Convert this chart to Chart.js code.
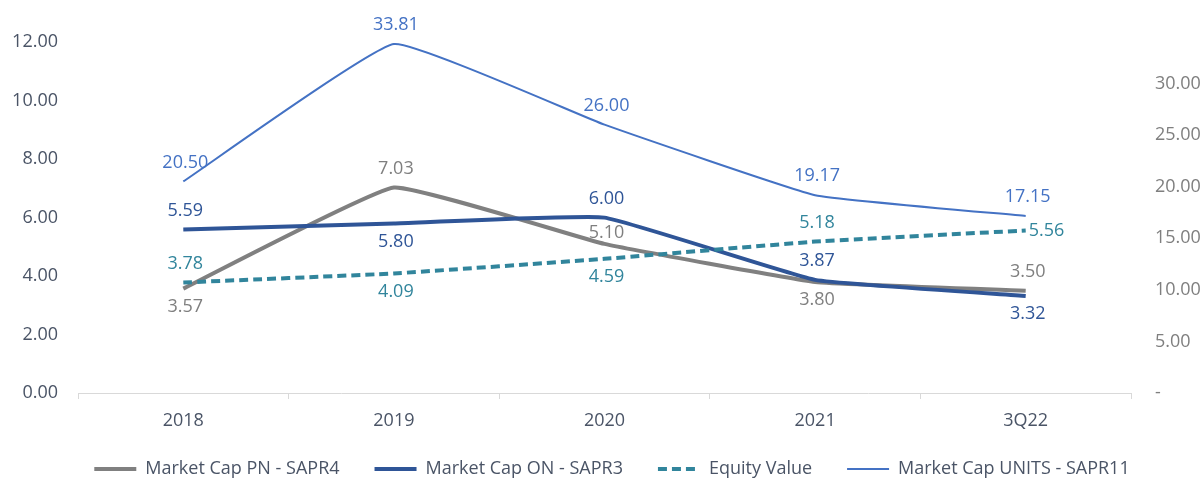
<!DOCTYPE html>
<html>
<head>
<meta charset="utf-8">
<script src="https://cdn.jsdelivr.net/npm/chart.js@4"></script>
<style>
  html, body { margin: 0; padding: 0; background: #fff; }
</style>
</head>
<body>
<canvas id="chart" width="1204" height="478"></canvas>
<script>
// dados
const categories = ['2018', '2019', '2020', '2021', '3Q22'];
const marketCapPN = [3.57, 7.03, 5.10, 3.80, 3.50];
const marketCapON = [5.59, 5.80, 6.00, 3.87, 3.32];
const equityValue = [3.78, 4.09, 4.59, 5.18, 5.56];
const marketCapUnits = [20.50, 33.81, 26.00, 19.17, 17.15];
const leftTicks = [0, 2, 4, 6, 8, 10, 12];
const rightTicks = [0, 5, 10, 15, 20, 25, 30];

// onde fica o rotulo de cada ponto
const pnPos = ['below', 'above', 'near', 'below', 'above'];
const onPos = ['above', 'below', 'above', 'above', 'below'];
const eqPos = ['above', 'below', 'below', 'above', 'right'];
const unitsPos = ['above', 'above', 'above', 'above', 'above'];

const FONT = '"Open Sans", "Noto Sans", sans-serif';
const TEXT = '#4a5466';

//rotulos de dados
const pointLabels = {
  id: 'pointLabels',
  afterLayout(chart) {
    // ajusta a legenda, como no original
    chart.legend.top -= 8;
    chart.legend.bottom -= 8;
    chart.legend.left += 10;
    chart.legend.right += 10;
  },
  afterDatasetsDraw(chart) {
    let ctx = chart.ctx;
    let dy = { above: -19, near: -11, below: 18 };
    chart.data.datasets.forEach((ds, i) => {
      let meta = chart.getDatasetMeta(i);
      ctx.save();
      ctx.font = '18px ' + FONT;
      ctx.fillStyle = ds.labelColor;
      ctx.textBaseline = 'middle';
      meta.data.forEach((pt, j) => {
        let txt = ds.data[j].toFixed(2);
        let pos = ds.labelPos[j];
        if (pos === 'right') {
          ctx.textAlign = 'left';
          ctx.fillText(txt, pt.x + 3, pt.y);
        } else {
          ctx.textAlign = 'center';
          ctx.fillText(txt, pt.x + 2, pt.y + dy[pos]);
        }
      });
      ctx.restore();
    });
  }
};

// sem folga extra em cima/baixo nos eixos y
const fitY = w => s => { s.width = w; s.paddingTop = 0; s.paddingBottom = 0; };

let chart = new Chart(document.getElementById('chart'), {
  type: 'line',
  data: {
    labels: categories,
    datasets: [
      {
        label: 'Market Cap PN - SAPR4', data: marketCapPN, yAxisID: 'y',
        borderColor: '#808080', backgroundColor: '#808080', borderWidth: 4,
        labelColor: '#7f7f7f', labelPos: pnPos, order: 4
      },
      {
        label: 'Market Cap ON - SAPR3', data: marketCapON, yAxisID: 'y',
        borderColor: '#2F5597', backgroundColor: '#2F5597', borderWidth: 4,
        labelColor: '#2F5597', labelPos: onPos, order: 3
      },
      {
        label: 'Equity Value', data: equityValue, yAxisID: 'y',
        borderColor: '#31859C', backgroundColor: '#31859C', borderWidth: 4,
        borderDash: [9, 5],
        labelColor: '#31859C', labelPos: eqPos, order: 2
      },
      {
        label: 'Market Cap UNITS - SAPR11', data: marketCapUnits, yAxisID: 'y1',
        borderColor: '#4472C4', backgroundColor: '#4472C4', borderWidth: 2,
        labelColor: '#4472C4', labelPos: unitsPos, order: 1
      }
    ]
  },
  options: {
    responsive: false,
    animation: false,
    devicePixelRatio: 1,
    layout: { padding: { top: 13, bottom: -18, left: 0, right: 0 } },
    elements: {
      point: { radius: 0 },
      line: { tension: 0.1, fill: false }
    },
    plugins: {
      tooltip: { enabled: false },
      legend: {
        position: 'bottom',
        labels: {
          usePointStyle: true,
          pointStyle: 'line',
          pointStyleWidth: 42,
          padding: 35,
          color: TEXT,
          font: { family: FONT, size: 18 },
          sort: (a, b) => a.datasetIndex - b.datasetIndex,
          // traço da legenda igual ao da linha (tracejado no Equity Value)
          generateLabels: chart => Chart.defaults.plugins.legend.labels.generateLabels(chart).map(item => {
            let ds = chart.data.datasets[item.datasetIndex];
            item.lineDash = ds.borderDash || [];
            item.lineWidth = ds.borderWidth;
            item.strokeStyle = ds.borderColor;
            return item;
          })
        }
      }
    },
    scales: {
      x: {
        offset: true,
        grid: { display: true, offset: true, drawOnChartArea: false, drawTicks: true, tickLength: 6, color: '#d9d9d9' },
        border: { display: true, color: '#d9d9d9', width: 1 },
        ticks: { color: TEXT, font: { family: FONT, size: 18 }, padding: 11 },
        afterFit: s => { s.height = 40; }
      },
      y: {
        position: 'left',
        min: 0,
        max: 13,
        grid: { display: false, drawTicks: false },
        border: { display: false },
        afterBuildTicks: s => { s.ticks = leftTicks.map(v => ({ value: v })); },
        ticks: {
          color: TEXT, font: { family: FONT, size: 18 }, padding: 20,
          callback: v => v.toFixed(2)
        },
        afterFit: fitY(78)
      },
      y1: {
        position: 'right',
        min: 0,
        max: 36.82,
        grid: { display: false, drawTicks: false },
        border: { display: false },
        afterBuildTicks: s => { s.ticks = rightTicks.map(v => ({ value: v })); },
        ticks: {
          color: '#7f7f7f', font: { family: FONT, size: 18 }, padding: 24,
          callback: v => v === 0 ? '-' : v.toFixed(2)
        },
        afterFit: fitY(73)
      }
    }
  },
  plugins: [pointLabels]
});
</script>
</body>
</html>
